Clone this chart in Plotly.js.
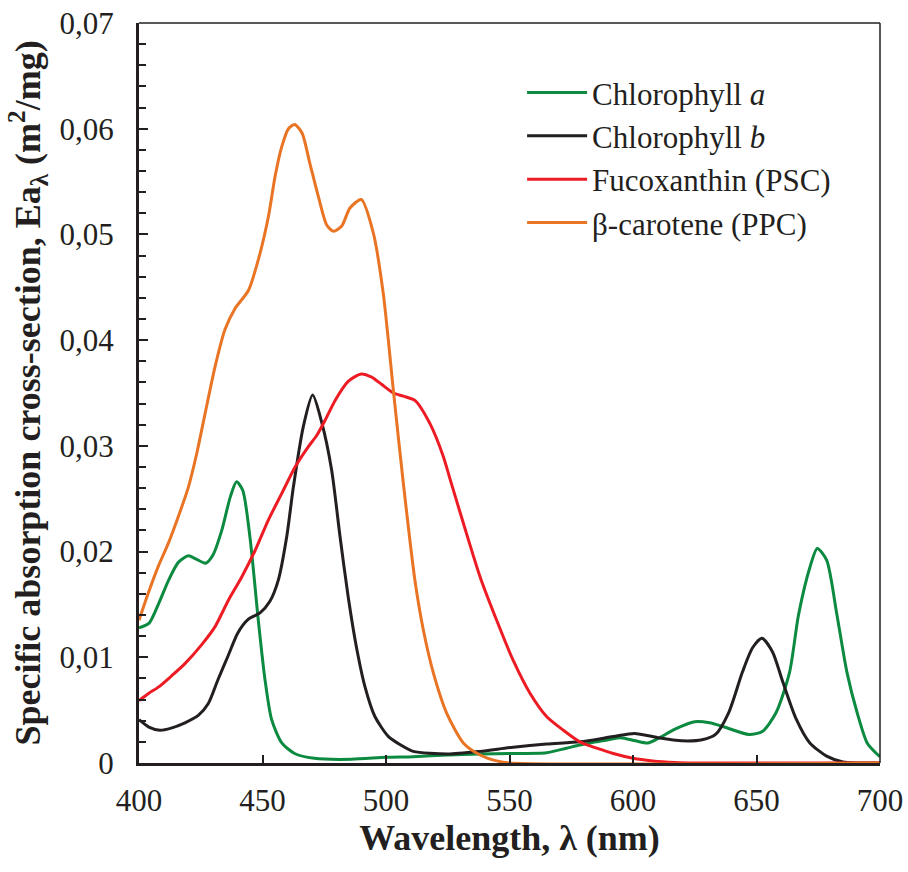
<!DOCTYPE html>
<html>
<head>
<meta charset="utf-8">
<script src="https://cdn.plot.ly/plotly-3.0.1.min.js"></script>
<style>
  html, body { margin: 0; padding: 0; background: #ffffff; }
  #chart { width: 908px; height: 872px; }
</style>
</head>
<body>
<div id="chart"></div>
<script>
// Specific absorption spectra of phytoplankton pigments, 400–700 nm (m²/mg)

const chlA_wl = [400, 404, 408, 412, 416, 420, 423, 427, 430, 433.5, 437, 439.5, 442, 445, 448.3, 451, 453.7, 457.8, 463, 471, 486, 500, 511, 525, 538, 551, 565, 573, 578.5, 585, 590, 595, 601, 606, 610, 617, 625, 631, 637, 647, 652.5, 658, 663.4, 667, 671.6, 674.6, 678.4, 682.5, 686.6, 690.7, 694.8, 699, 700];
const chlA_val = [0.0128, 0.0132, 0.0151, 0.0173, 0.0190, 0.0196, 0.0193, 0.0189, 0.0197, 0.0220, 0.0252, 0.0266, 0.0258, 0.0212, 0.0135, 0.0079, 0.0041, 0.0019, 0.0009, 0.00044, 0.00035, 0.00054, 0.0006, 0.00076, 0.00085, 0.0009, 0.00097, 0.0014, 0.0017, 0.0020, 0.0022, 0.0024, 0.0021, 0.0019, 0.0023, 0.0032, 0.0039, 0.0038, 0.0034, 0.0027, 0.0030, 0.0048, 0.0086, 0.0140, 0.0185, 0.0203, 0.0192, 0.0141, 0.0086, 0.0048, 0.0019, 0.0008, 0.0006];

const chlB_wl = [400, 404, 408.5, 413, 418.6, 424, 428, 432, 436, 440, 444.3, 449, 453, 456.4, 459.8, 462.5, 466.5, 470.3, 474, 478, 481.4, 484.7, 488, 491.5, 495.5, 501, 506, 511, 525, 538, 551.5, 565, 578.5, 592, 600.6, 610, 619.7, 628, 633.4, 638.8, 644.3, 648.4, 652.2, 656.5, 660.6, 666, 671.6, 678.4, 685, 690, 700];
const chlB_val = [0.0041, 0.0034, 0.0031, 0.0033, 0.0038, 0.0045, 0.0056, 0.0079, 0.0101, 0.0123, 0.0136, 0.0142, 0.0153, 0.0173, 0.0214, 0.0261, 0.0318, 0.0348, 0.0322, 0.0277, 0.0214, 0.0157, 0.0110, 0.0072, 0.0044, 0.0025, 0.0017, 0.0011, 0.00085, 0.0011, 0.0015, 0.0018, 0.0020, 0.0025, 0.0028, 0.0024, 0.0021, 0.0022, 0.0027, 0.0048, 0.0086, 0.0109, 0.0118, 0.0105, 0.0077, 0.0042, 0.0019, 0.00065, 0.0001, 0, 0];

const fuco_wl = [400, 404, 408, 413, 418.6, 425.4, 430.8, 436.2, 441.6, 447, 452.4, 457.8, 463.2, 468.5, 472, 475.3, 479.4, 484.7, 489.9, 494.2, 498.3, 503, 507, 511.7, 517.8, 523.2, 526, 531.3, 538.1, 544.8, 551.5, 558.3, 565, 571.8, 578.5, 585.3, 592, 600, 608, 617, 625, 700];
const fuco_val = [0.0059, 0.0066, 0.0072, 0.0082, 0.0094, 0.0112, 0.0129, 0.0154, 0.0176, 0.0201, 0.0230, 0.0255, 0.0280, 0.0299, 0.0310, 0.0324, 0.0343, 0.0361, 0.0368, 0.0365, 0.0358, 0.0350, 0.0347, 0.0343, 0.0321, 0.0290, 0.0268, 0.0227, 0.0176, 0.0135, 0.0097, 0.0066, 0.0044, 0.0031, 0.0020, 0.0014, 0.0009, 0.00045, 0.0002, 0.00005, 0, 0];

const bcar_wl = [400, 403.8, 407.8, 411.9, 415.9, 420, 423.4, 426, 430.8, 434.8, 438.9, 444.3, 448.3, 452.4, 455.1, 457.8, 460.5, 463, 466, 469.2, 472.6, 476, 478.7, 482.1, 485.4, 490, 494.9, 498.9, 503, 507, 511.7, 515.1, 519.2, 524.6, 531.3, 538.1, 544.8, 550, 700];
const bcar_val = [0.0135, 0.0161, 0.0186, 0.0208, 0.0233, 0.0261, 0.0293, 0.0322, 0.0375, 0.0410, 0.0430, 0.0447, 0.0476, 0.0517, 0.0555, 0.0583, 0.0600, 0.0604, 0.0596, 0.0567, 0.0536, 0.0509, 0.0503, 0.0508, 0.0525, 0.0533, 0.0501, 0.0444, 0.0352, 0.0265, 0.0173, 0.0126, 0.0085, 0.0047, 0.0019, 0.00076, 0.0002, 0, 0];

const seriesNames = ['Chlorophyll <i>a</i>', 'Chlorophyll <i>b</i>', 'Fucoxanthin (PSC)', 'β-carotene (PPC)'];
const seriesColors = ['#0b8a40', '#231f20', '#ed1c24', '#e87424'];

const ink = '#231f20';
const serif = '"Liberation Serif", "Times New Roman", Times, serif';

function spectrum(x, y, i) {
  return {
    x: x, y: y, name: seriesNames[i], type: 'scatter', mode: 'lines',
    line: { color: seriesColors[i], width: 3, shape: 'spline', smoothing: 0.7 },
    hoverinfo: 'skip'
  };
}

const data = [
  spectrum(chlA_wl, chlA_val, 0),
  spectrum(chlB_wl, chlB_val, 1),
  spectrum(fuco_wl, fuco_val, 2),
  spectrum(bcar_wl, bcar_val, 3)
];

const layout = {
  width: 908, height: 872,
  margin: { l: 139, r: 28, t: 23, b: 109 },
  paper_bgcolor: '#ffffff', plot_bgcolor: '#ffffff',
  separators: ', ',
  font: { family: serif, color: ink, size: 31 },
  showlegend: true,
  legend: {
    x: 0.517, xanchor: 'left', y: 0.942, yanchor: 'top',
    bgcolor: 'rgba(0,0,0,0)', borderwidth: 0,
    font: { family: serif, size: 31, color: ink },
    itemwidth: 60, tracegroupgap: 0
  },
  xaxis: {
    range: [400, 700], dtick: 50, tick0: 400,
    showgrid: false, zeroline: false,
    showline: true, linecolor: ink, linewidth: 3,
    ticks: 'inside', ticklen: 8, tickwidth: 2, tickcolor: ink,
    tickfont: { family: serif, size: 31, color: ink },
    ticklabelstandoff: 8,
    title: { text: '<b>Wavelength, λ (nm)</b>', font: { family: serif, size: 36, color: ink }, standoff: 6 }
  },
  yaxis: {
    range: [0, 0.07], dtick: 0.01, tick0: 0,
    showgrid: false, zeroline: false,
    showline: true, linecolor: ink, linewidth: 3,
    ticks: 'inside', ticklen: 9, tickwidth: 2, tickcolor: ink,
    minor: { dtick: 0.002, ticks: 'inside', ticklen: 7, tickwidth: 2, tickcolor: ink, showgrid: false },
    tickfont: { family: serif, size: 31, color: ink },
    ticklabelstandoff: 16,
    title: { text: '<b>Specific absorption cross-section, Ea<sub>λ</sub> (m<sup>2</sup>/mg)</b>', font: { family: serif, size: 36, color: ink }, standoff: 8 }
  },
  shapes: [
    { type: 'line', xref: 'paper', yref: 'paper', x0: 0, x1: 1, y0: 1, y1: 1, line: { color: ink, width: 1.5 } },
    { type: 'line', xref: 'paper', yref: 'paper', x0: 1, x1: 1, y0: 0, y1: 1, line: { color: ink, width: 1.5 } }
  ]
};

Plotly.newPlot('chart', data, layout, { staticPlot: true, displayModeBar: false });
</script>
</body>
</html>
